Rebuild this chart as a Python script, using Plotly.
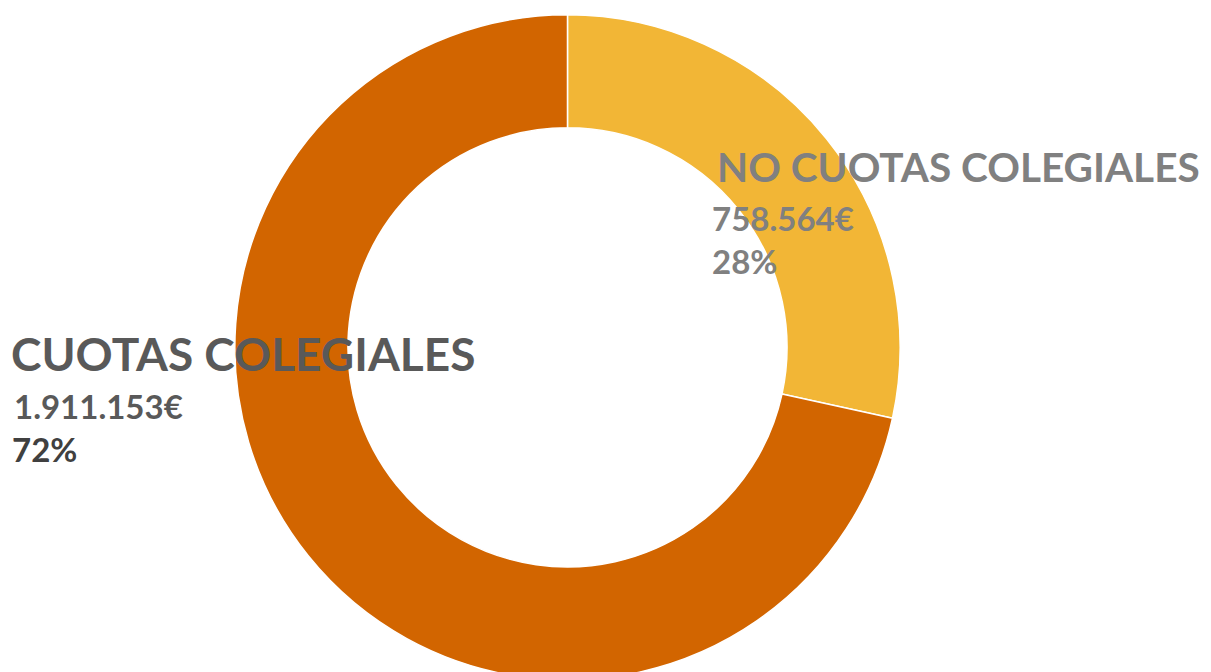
import plotly.graph_objects as go

W, H = 1211, 672

labels = ["NO CUOTAS COLEGIALES", "CUOTAS COLEGIALES"]
values = [758564, 1911153]
value_text = ["758.564€", "1.911.153€"]
pct_text = ["28%", "72%"]
colors = ["#F2B636", "#D26500"]

FONT = "Lato"

fig = go.Figure(go.Pie(
    labels=labels,
    values=values,
    sort=False,
    direction="clockwise",
    rotation=0,
    hole=0.66,
    marker=dict(colors=colors, line=dict(color="#FFFFFF", width=1.5)),
    textinfo="none",
    hoverinfo="label+value+percent",
    showlegend=False,
    domain=dict(x=[0.042, 0.882], y=[0.0, 0.99]),
))


def px_note(text, x, y, size, color):
    # place a left-anchored label at pixel position (x, y from top)
    fig.add_annotation(
        text=text, x=x / W, y=1 - y / H, xref="paper", yref="paper",
        xanchor="left", yanchor="middle", showarrow=False, borderpad=0,
        font=dict(family=FONT, size=size, color=color),
    )


# right label (first slice)
px_note(f"<b>{labels[0]}</b>", 708, 159, 40.5, "#808080")
px_note(f"<b>{value_text[0]}</b>", 703, 210, 33, "#808080")
px_note(f"<b>{pct_text[0]}</b>", 703, 253, 33, "#808080")

# left label (second slice)
px_note(f"<b>{labels[1]}</b>", 2, 346, 46, "#595959")
px_note(f"<b>{value_text[1]}</b>", 5, 398, 33, "#595959")
px_note(f"<b>{pct_text[1]}</b>", 3, 441, 33, "#404040")

fig.update_layout(
    width=W, height=H,
    margin=dict(l=0, r=0, t=0, b=0),
    paper_bgcolor="#FFFFFF",
    plot_bgcolor="#FFFFFF",
)

fig.write_html("out.html")
